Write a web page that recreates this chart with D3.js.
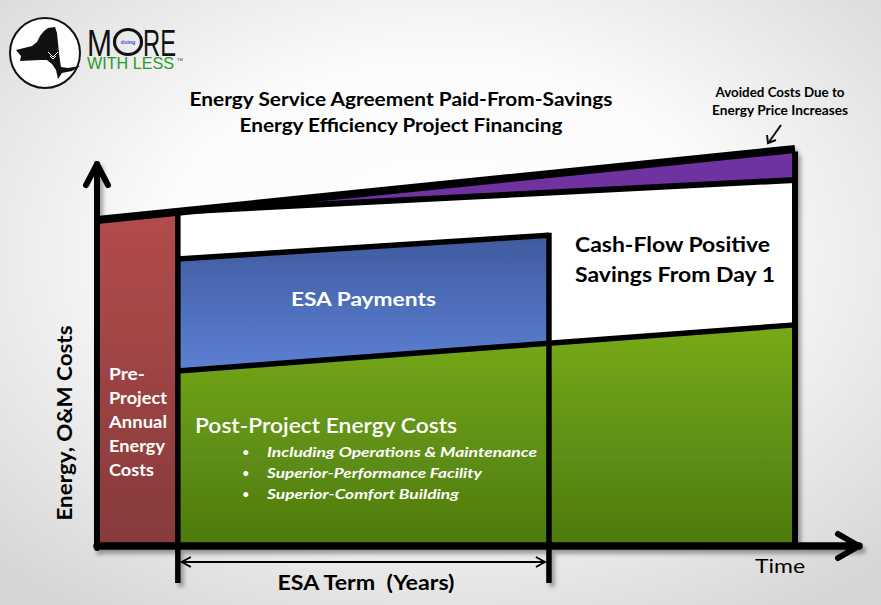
<!DOCTYPE html>
<html><head><meta charset="utf-8">
<script src="https://cdn.jsdelivr.net/npm/d3@7"></script>
<style>html,body{margin:0;padding:0;background:#fff;} svg{display:block;}</style>
</head><body>
<script>
// ---------------- DATA (conceptual values) ----------------
const phaseNames = ["Pre-Project", "ESA Term", "Post-ESA"];
const phaseStart = [0, 1.39, 7.77];           // years
const phaseEnd   = [1.39, 7.77, 12];
const horizonYears = [0, 12];
const escalatedCost = [82.1, 100];            // energy cost with price increases (t=0, t=12)
const flatYears = [1.39, 12];
const flatCost = [84.2, 92.2];                // cost line bounding the avoided-cost wedge
const esaYears = [1.39, 7.77];
const esaTopCost = [72.3, 78.3];              // top of ESA payments band
const postYears = [1.39, 12];
const postProjectCost = [44.1, 55.7];         // post-project energy + O&M costs
const axisMaxTime = 13.1;
const axisMaxCost = 96.2;

const titleLines = ["Energy Service Agreement Paid-From-Savings", "Energy Efficiency Project Financing"];
const noteLines = ["Avoided Costs Due to", "Energy Price Increases"];
const cashLines = ["Cash-Flow Positive", "Savings From Day 1"];
const preLines = ["Pre-", "Project", "Annual", "Energy", "Costs"];
const bulletLines = ["Including Operations & Maintenance", "Superior-Performance Facility", "Superior-Comfort Building"];

// ---------------- SETUP ----------------
const W = 881, H = 605;
const svg = d3.select("body").append("svg").attr("width", W).attr("height", H);
const defs = svg.append("defs");

const x = d3.scaleLinear().domain([0, 12]).range([97, 795]);
const y = d3.scaleLinear().domain([0, 100]).range([546, 149]);

const esc = d3.scaleLinear().domain(horizonYears).range(escalatedCost);
const flat = d3.scaleLinear().domain(flatYears).range(flatCost);
const esaTop = d3.scaleLinear().domain(esaYears).range(esaTopCost);
const post = d3.scaleLinear().domain(postYears).range(postProjectCost);

function lin(id, stops, x1=0, y1=0, x2=0, y2=1) {
  const g = defs.append("linearGradient").attr("id", id)
    .attr("x1", x1).attr("y1", y1).attr("x2", x2).attr("y2", y2);
  stops.forEach(([o, c]) => g.append("stop").attr("offset", o).attr("stop-color", c));
}
const bg = defs.append("radialGradient").attr("id", "bg").attr("cx", "50%").attr("cy", "42%").attr("r", "72%");
[[0, "#ffffff"], [0.45, "#fbfbfb"], [1, "#d6d6d6"]].forEach(([o, c]) => bg.append("stop").attr("offset", o).attr("stop-color", c));
lin("red", [[0, "#b34c4c"], [1, "#863a3b"]]);
lin("blue", [[0, "#3f5b9f"], [1, "#5d80d4"]]);
lin("green", [[0, "#77aa18"], [1, "#4d7a0f"]]);

const sh = defs.append("filter").attr("id", "shadow").attr("x", "-5%").attr("y", "-5%").attr("width", "115%").attr("height", "115%");
sh.append("feDropShadow").attr("dx", 3).attr("dy", 4).attr("stdDeviation", 2).attr("flood-color", "#000").attr("flood-opacity", 0.35);

svg.append("rect").attr("width", W).attr("height", H).attr("fill", "url(#bg)");

// ---------------- LOGO ----------------
const logo = svg.append("g");
logo.append("circle").attr("cx", 45).attr("cy", 53).attr("r", 35).attr("fill", "#fff").attr("stroke", "#111").attr("stroke-width", 2);
logo.append("path").attr("fill", "#111")
  .attr("d", "M16,50 L24,48 L32,46 L37,42 L40,36 L44,31 L48,28 L55,27 L57,33 L58,43 L59,53 L60,61 L61,67 L68,68 L80,66 L72,71 L62,73 L58,79 L56,70 L52,64 L47,60 L40,60 L20,61 L21,56 Z");
logo.append("path").attr("fill", "none").attr("stroke", "#fff").attr("stroke-width", 1)
  .attr("d", "M48,52 L53,57 L58,52 M50,56 L53,59 L56,56");
const LF = "'Liberation Sans Narrow', 'Liberation Sans', Arial";
logo.append("text").attr("x", 87).attr("y", 56).attr("font-family", LF).attr("font-size", 37)
  .attr("textLength", 25).attr("lengthAdjust", "spacingAndGlyphs").attr("fill", "#111").text("M");
logo.append("ellipse").attr("cx", 128).attr("cy", 42).attr("rx", 13.5).attr("ry", 12.5)
  .attr("fill", "none").attr("stroke", "#111").attr("stroke-width", 3.2);
logo.append("text").attr("x", 143).attr("y", 56).attr("font-family", LF).attr("font-size", 37)
  .attr("textLength", 33).attr("lengthAdjust", "spacingAndGlyphs").attr("fill", "#111").text("RE");
logo.append("text").attr("x", 128).attr("y", 44).attr("font-family", "Liberation Sans, Arial").attr("font-weight", "bold")
  .attr("font-size", 5.5).attr("text-anchor", "middle").attr("fill", "#3355cc").text("doing");
logo.append("text").attr("x", 87).attr("y", 69).attr("font-family", "Liberation Sans, Arial").attr("font-size", 16.5)
  .attr("textLength", 87).attr("lengthAdjust", "spacingAndGlyphs").attr("fill", "#2a9a2a").text("WITH LESS");
logo.append("text").attr("x", 177).attr("y", 61).attr("font-family", "Liberation Sans, Arial").attr("font-size", 4).attr("fill", "#333").text("TM");

// ---------------- CHART SHAPES ----------------
const g = svg.append("g").attr("filter", "url(#shadow)");
const t0 = phaseStart[0], t1 = phaseStart[1], t2 = phaseStart[2], t3 = phaseEnd[2];

g.append("path").attr("fill", "url(#red)")
  .attr("d", d3.line()([[x(t0), y(0)], [x(t0), y(esc(t0))], [x(t1), y(esc(t1))], [x(t1), y(0)]]) + "Z");
g.append("path").attr("fill", "#ffffff")
  .attr("d", d3.area().x(d => x(d)).y0(y(0)).y1(d => y(flat(d)))([t1, t3]));
g.append("path").attr("fill", "#7030a0")
  .attr("d", d3.area().x(d => x(d)).y0(d => y(flat(d))).y1(d => y(esc(d)))([t1, t3]));
g.append("path").attr("fill", "url(#green)")
  .attr("d", d3.area().x(d => x(d)).y0(y(0)).y1(d => y(post(d)))([t1, t3]));
g.append("path").attr("fill", "url(#blue)")
  .attr("d", d3.area().x(d => x(d)).y0(d => y(post(d))).y1(d => y(esaTop(d)))([t1, t2]));

const L = d3.line().x(d => x(d[0])).y(d => y(d[1]));
function stroke(pts, w, cap="butt") {
  g.append("path").attr("d", L(pts)).attr("fill", "none").attr("stroke", "#000").attr("stroke-width", w)
   .attr("stroke-linecap", cap).attr("stroke-linejoin", "miter");
}
stroke([[t1, flat(t1)], [t3, flat(t3)]], 6);
stroke([[t1, post(t1)], [t3, post(t3)]], 5.5);
stroke([[t1, esaTop(t1)], [t2, esaTop(t2)]], 5.5);
stroke([[t0, esc(t0)], [t3, esc(t3)]], 8);
const below = y.invert(583);
stroke([[t1, esc(t1)], [t1, below]], 5.5);
stroke([[t2, esaTop(t2) + 0.6], [t2, below]], 5.5);
stroke([[t3, esc(t3) - 0.6], [t3, 0]], 6);
stroke([[t0, -0.5], [t0, axisMaxCost]], 6, "round");
stroke([[t0, 0], [axisMaxTime, 0]], 7.5, "round");

const arr = svg.append("g");
const ax0 = x(t0), ayTop = y(axisMaxCost);
arr.append("path").attr("d", `M${ax0 - 11},${ayTop + 21} L${ax0},${ayTop} L${ax0 + 11},${ayTop + 21}`)
  .attr("fill", "none").attr("stroke", "#000").attr("stroke-width", 6).attr("stroke-linecap", "round").attr("stroke-linejoin", "round");
const axEnd = x(axisMaxTime), ay0 = y(0);
arr.append("path").attr("d", `M${axEnd - 21},${ay0 - 12} L${axEnd},${ay0} L${axEnd - 21},${ay0 + 12}`)
  .attr("fill", "none").attr("stroke", "#000").attr("stroke-width", 6).attr("stroke-linecap", "round").attr("stroke-linejoin", "round");

const yt = 562;
arr.append("line").attr("x1", x(t1) + 4).attr("x2", x(t2) - 4).attr("y1", yt).attr("y2", yt).attr("stroke", "#000").attr("stroke-width", 2);
arr.append("path").attr("d", `M${x(t1) + 13},${yt - 5} L${x(t1) + 4},${yt} L${x(t1) + 13},${yt + 5}`).attr("fill", "none").attr("stroke", "#000").attr("stroke-width", 2);
arr.append("path").attr("d", `M${x(t2) - 13},${yt - 5} L${x(t2) - 4},${yt} L${x(t2) - 13},${yt + 5}`).attr("fill", "none").attr("stroke", "#000").attr("stroke-width", 2);

arr.append("line").attr("x1", 781).attr("y1", 125).attr("x2", 769).attr("y2", 142).attr("stroke", "#111").attr("stroke-width", 2);
arr.append("path").attr("d", "M767,135 L768,143 L776,140").attr("fill", "none").attr("stroke", "#111").attr("stroke-width", 2);

// ---------------- TEXT ----------------
const FONT = "Lato, 'Open Sans', sans-serif";
function txt(parent, xx, yy, s, size, opt = {}) {
  const t = parent.append("text").attr("x", xx).attr("y", yy).text(s)
    .attr("font-family", FONT).attr("font-size", size)
    .attr("font-weight", opt.weight || "bold")
    .attr("font-style", opt.style || "normal")
    .attr("fill", opt.fill || "#000")
    .attr("text-anchor", opt.anchor || "start")
    .style("white-space", "pre");
  if (opt.len) t.attr("textLength", opt.len).attr("lengthAdjust", "spacingAndGlyphs");
  if (opt.transform) t.attr("transform", opt.transform);
  return t;
}
const T = svg.append("g");
txt(T, 401, 106, titleLines[0], 19, {anchor: "middle", len: 423});
txt(T, 401, 132, titleLines[1], 19, {anchor: "middle", len: 323});
txt(T, 780, 97, noteLines[0], 12.5, {anchor: "middle", len: 129});
txt(T, 780, 115, noteLines[1], 12.5, {anchor: "middle", len: 136});
txt(T, 575, 252, cashLines[0], 20, {len: 195});
txt(T, 575, 282, cashLines[1], 20, {len: 200});
txt(T, x((t1 + t2) / 2), 306, "ESA Payments", 19, {anchor: "middle", fill: "#fff", len: 145});
const preW = [36, 58, 58, 56, 45];
preLines.forEach((s, i) => txt(T, 109, 380 + i * 24, s, 17, {fill: "#fff", len: preW[i]}));
txt(T, 195, 433, "Post-Project Energy Costs", 21, {fill: "#fff", weight: "600", len: 262});
const bW = [270, 215, 192];
bulletLines.forEach((s, i) => {
  txt(T, 242, 457 + i * 21, "•", 13, {fill: "#fff", weight: "normal"});
  txt(T, 267, 457 + i * 21, s, 14, {fill: "#fff", style: "italic", len: bW[i]});
});
txt(T, 72, 423, "Energy, O&M Costs", 20, {anchor: "middle", len: 195, transform: "rotate(-90,72,423)"});
txt(T, 366, 590, "ESA Term  (Years)", 20, {anchor: "middle", len: 177});
txt(T, 780, 573, "Time", 20, {anchor: "middle", weight: "normal", len: 50});
</script>
</body></html>
